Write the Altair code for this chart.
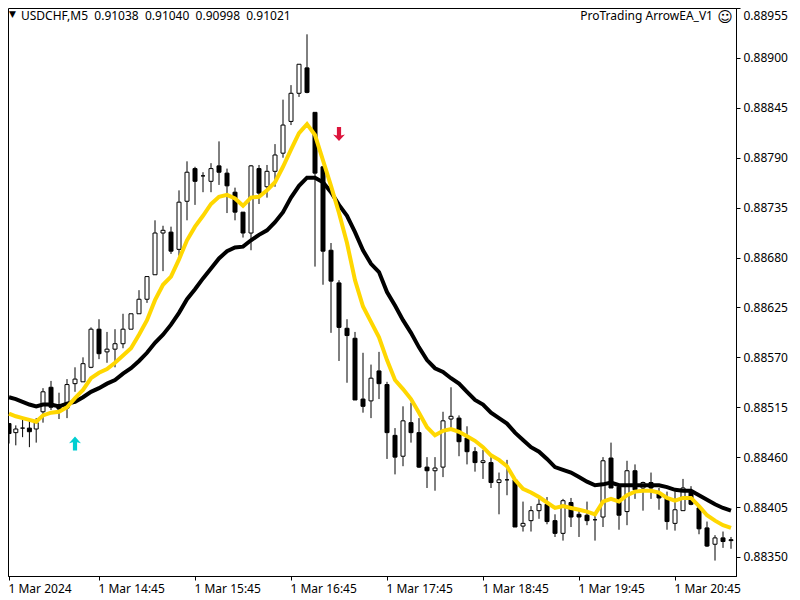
import json
import altair as alt
import pandas as pd

opens = [88497,88487,88492,88492,88491,88510,88537,88518,88514,88541,88543,88559,88601,88576,88579,88585,88601,88618,88634,88661,88707,88708,88689,88742,88778,88770,88764,88781,88773,88752,88730,88707,88778,88758,88775,88795,88830,88861,88889,88840,88780,88688,88652,88602,88591,88524,88522,88555,88540,88484,88461,88498,88487,88449,88445,88449,88502,88503,88481,88466,88454,88454,88432,88435,88435,88384,88390,88401,88408,88390,88376,88410,88397,88396,88391,88394,88459,88427,88400,88445,88426,88432,88421,88415,88387,88401,88423,88404,88382,88364,88371,88369]
highs = [88497,88495,88501,88501,88503,88536,88544,88531,88546,88559,88570,88603,88612,88598,88601,88618,88618,88644,88659,88721,88715,88714,88754,88786,88780,88774,88784,88808,88778,88757,88730,88782,88782,88782,88805,88854,88870,88893,88926,88840,88780,88696,88655,88612,88598,88575,88562,88576,88543,88492,88516,88520,88503,88460,88460,88510,88537,88506,88494,88471,88468,88460,88443,88457,88435,88411,88406,88414,88416,88397,88414,88415,88402,88411,88398,88460,88476,88429,88456,88452,88433,88443,88426,88422,88422,88436,88428,88404,88389,88374,88378,88372]
lows = [88475,88473,88482,88471,88476,88498,88512,88502,88503,88532,88543,88558,88568,88564,88559,88580,88601,88618,88630,88661,88665,88684,88682,88721,88738,88752,88752,88760,88729,88721,88702,88688,88739,88746,88758,88790,88826,88857,88861,88670,88650,88597,88566,88542,88523,88509,88503,88524,88458,88441,88450,88476,88448,88426,88423,88438,88492,88461,88452,88444,88436,88426,88397,88418,88383,88378,88378,88392,88386,88372,88368,88383,88372,88385,88368,88383,88426,88380,88385,88414,88401,88414,88402,88380,88379,88401,88407,88375,88361,88346,88360,88359]
closes = [88486,88491,88492,88488,88498,88532,88515,88513,88540,88546,88563,88601,88574,88579,88585,88601,88618,88634,88659,88707,88710,88687,88741,88774,88764,88770,88778,88774,88759,88730,88707,88781,88751,88775,88793,88826,88861,88893,88862,88773,88687,88654,88603,88594,88523,88516,88547,88541,88487,88460,88500,88487,88449,88445,88448,88500,88505,88477,88466,88454,88456,88432,88435,88435,88383,88387,88401,88408,88389,88376,88412,88394,88394,88390,88391,88456,88426,88396,88445,88424,88432,88426,88415,88389,88402,88426,88408,88381,88362,88371,88367,88368]
gold_ma = [88508,88505,88503,88501,88499,88506,88509,88510,88515,88525,88534,88547,88553,88557,88564,88572,88580,88595,88611,88633,88650,88659,88678,88699,88714,88726,88739,88747,88749,88745,88737,88746,88747,88754,88763,88780,88799,88817,88827,88815,88787,88759,88729,88696,88655,88626,88609,88592,88567,88545,88535,88524,88509,88493,88484,88489,88491,88488,88483,88478,88471,88462,88457,88450,88435,88425,88421,88416,88410,88404,88406,88404,88402,88400,88397,88411,88414,88411,88418,88422,88423,88423,88421,88415,88412,88415,88415,88406,88396,88390,88385,88382]
black_ma = [88526,88524,88521,88518,88516,88518,88518,88516,88519,88521,88526,88532,88536,88541,88545,88552,88558,88566,88575,88586,88595,88606,88619,88634,88645,88657,88668,88679,88687,88691,88692,88699,88705,88710,88719,88730,88746,88759,88768,88768,88763,88752,88738,88726,88708,88688,88673,88664,88642,88627,88611,88597,88581,88567,88558,88554,88547,88541,88532,88523,88518,88509,88503,88497,88487,88479,88471,88466,88458,88449,88446,88443,88438,88433,88429,88430,88432,88429,88429,88429,88429,88429,88429,88427,88424,88423,88423,88418,88413,88408,88404,88401]
price_ticks = [88955,88900,88845,88790,88735,88680,88625,88570,88515,88460,88405,88350]
time_ticks = ["1 Mar 2024","1 Mar 14:45","1 Mar 15:45","1 Mar 16:45","1 Mar 17:45","1 Mar 18:45","1 Mar 19:45","1 Mar 20:45"]
buy_arrow = (9, 88475)
sell_arrow = (42, 88816)

FONT = "Noto Sans"
df = pd.DataFrame({"i": range(len(opens)), "o": opens, "h": highs, "l": lows, "c": closes,
                   "ma1": gold_ma, "ma2": black_ma})
for col in ["o", "h", "l", "c", "ma1", "ma2"]:
    df[col] = df[col] / 100000
df["up"] = df["c"] >= df["o"]

x_scale = alt.Scale(domain=[-0.15, 0, 5, 91.625], range=[0, 1, 35, 728], nice=False, zero=False, padding=0)
y_scale = alt.Scale(domain=[0.88329, 0.88955], range=[568, 0], nice=False, zero=False)
x_axis = alt.Axis(
    values=[k * 12 for k in range(len(time_ticks))],
    labelExpr=json.dumps(time_ticks) + "[round(datum.value/12)]",
    labelAlign="left", labelFont=FONT, labelFontSize=12, labelColor="black",
    labelPadding=3, labelOffset=-1, tickSize=4, tickColor="black", domainColor="black", grid=False,
    title=None, labelFlush=False, labelOverlap=False, orient="bottom")
y_axis = alt.Axis(
    values=[v / 100000 for v in price_ticks], format=".5f",
    labelFont=FONT, labelFontSize=12, labelColor="black", labelPadding=3,
    tickSize=4, tickColor="black", domainColor="black", grid=False, title=None,
    labelFlush=True, labelFlushOffset=-2, labelOverlap=False, orient="right")
X = alt.X("i:Q", scale=x_scale, axis=x_axis)

def Y(field):
    return alt.Y(field, scale=y_scale, axis=y_axis)

base = alt.Chart(df)
wicks = base.mark_rule(color="black", strokeWidth=1).encode(x=X, y=Y("h:Q"), y2="l:Q")
bodies = base.mark_bar(size=4, stroke="black", strokeWidth=1).encode(
    x=X, y=Y("o:Q"), y2="c:Q",
    fill=alt.condition("datum.up", alt.value("white"), alt.value("black")))
line2 = base.mark_line(color="black", strokeWidth=4).encode(x=X, y=Y("ma2:Q"))
line1 = base.mark_line(color="#FFD700", strokeWidth=4).encode(x=X, y=Y("ma1:Q"))

ARROW_UP = "M0,-1L0.85,-0.05L0.3,-0.2L0.3,1L-0.3,1L-0.3,-0.2L-0.85,-0.05Z"
ARROW_DOWN = "M0,1L0.85,0.05L0.3,0.2L0.3,-1L-0.3,-1L-0.3,0.2L-0.85,0.05Z"
def arrow(pt, shape, color):
    d = pd.DataFrame({"i": [pt[0]], "p": [pt[1] / 100000]})
    return alt.Chart(d).mark_point(shape=shape, size=196, filled=True, color=color, opacity=1).encode(
        x=X, y=Y("p:Q"))

def label(text, x, y, align="left", font=FONT, size=12):
    return alt.Chart(pd.DataFrame({"t": [text]})).mark_text(
        align=align, baseline="middle", font=font, fontSize=size, color="black"
    ).encode(text="t:N", x=alt.value(x), y=alt.value(y))

gap = "\u00a0\u00a0"
header = "USDCHF,M5" + gap + gap.join(["0.91038", "0.91040", "0.90998", "0.91021"])
chart = alt.layer(
    wicks, bodies, line2, line1,
    arrow(buy_arrow, ARROW_UP, "#00CED1"),
    arrow(sell_arrow, ARROW_DOWN, "#DC143C"),
    label("\u25bc", 1, 6, font="DejaVu Sans", size=9),
    label(header, 13, 8),
    label("ProTrading ArrowEA_V1", 705, 8, align="right"),
    label("\u263a", 717, 9, align="center", font="DejaVu Sans", size=15),
).properties(
    width=728, height=568,
    autosize=alt.AutoSizeParams(type="none"),
    padding={"left": 0, "top": 0, "right": 56, "bottom": 24},
    background="white",
).configure_view(stroke="black", strokeWidth=1)

chart.save("out.html", embed_options={"renderer": "svg", "actions": False})
